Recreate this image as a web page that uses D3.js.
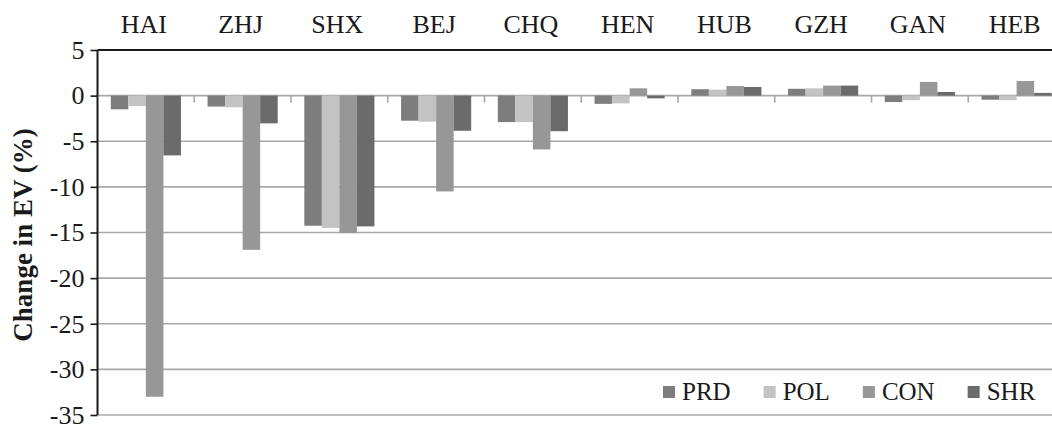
<!DOCTYPE html>
<html>
<head>
<meta charset="utf-8">
<script src="https://cdn.jsdelivr.net/npm/d3@7"></script>
<style>
  html, body { margin: 0; padding: 0; background: #fff; overflow: hidden; }
  svg { display: block; font-family: "Liberation Serif", "Times New Roman", serif; }
</style>
</head>
<body>
<svg id="chart" width="1052" height="424"></svg>
<script>
const categories = ["HAI","ZHJ","SHX","BEJ","CHQ","HEN","HUB","GZH","GAN","HEB"];
const seriesNames = ["PRD","POL","CON","SHR"];
const PRD = [-1.5, -1.2, -14.26, -2.75, -2.9, -0.9, 0.7, 0.75, -0.7, -0.45];
const POL = [-1.14, -1.28, -14.5, -2.86, -2.9, -0.85, 0.65, 0.8, -0.5, -0.5];
const CON = [-33.0, -16.9, -15.06, -10.5, -5.9, 0.8, 1.05, 1.1, 1.5, 1.6];
const SHR = [-6.55, -3.04, -14.33, -3.85, -3.9, -0.3, 0.95, 1.1, 0.4, 0.3];
const yTicks = [5, 0, -5, -10, -15, -20, -25, -30, -35];
const colors = ["#7d7d7d", "#c3c3c3", "#979797", "#6b6b6b"];

const values = [PRD, POL, CON, SHR];
const svg = d3.select("#chart");

const plotLeft = 97.5, plotRight = 1065, plotTop = 50, plotBottom = 415;

const y = d3.scaleLinear().domain([-35, 5]).range([plotBottom, plotTop]);
const x0 = d3.scaleBand().domain(categories).range([plotLeft, plotRight]).padding(0);
const bw = x0.bandwidth();
const pad = bw * 0.1375;
const x1 = d3.scaleBand().domain(seriesNames).range([pad, bw - pad]).padding(0);

// gridlines (grey)
svg.append("g").selectAll("line")
  .data(yTicks.filter(t => t !== 5))
  .join("line")
  .attr("x1", plotLeft).attr("x2", 1052)
  .attr("y1", d => y(d)).attr("y2", d => y(d))
  .attr("stroke", "#a8a8a8").attr("stroke-width", 1.6);

// bars
const groups = svg.append("g").selectAll("g")
  .data(categories)
  .join("g")
  .attr("transform", d => `translate(${x0(d)},0)`);

groups.selectAll("rect")
  .data((d, i) => seriesNames.map((s, j) => ({ s, v: values[j][i], j })))
  .join("rect")
  .attr("x", d => x1(d.s))
  .attr("width", x1.bandwidth())
  .attr("y", d => y(Math.max(0, d.v)))
  .attr("height", d => Math.abs(y(d.v) - y(0)))
  .attr("fill", d => colors[d.j]);

// category separator ticks at zero line
svg.append("g").selectAll("line")
  .data(categories.slice(1))
  .join("line")
  .attr("x1", d => x0(d)).attr("x2", d => x0(d))
  .attr("y1", y(0)).attr("y2", y(0) + 7)
  .attr("stroke", "#a8a8a8").attr("stroke-width", 1.6);

// top line at 5 (dark)
svg.append("line")
  .attr("x1", plotLeft).attr("x2", 1052)
  .attr("y1", y(5)).attr("y2", y(5))
  .attr("stroke", "#1a1a1a").attr("stroke-width", 2);

// left axis
const yAxis = d3.axisLeft(y).tickValues(yTicks).tickSize(7).tickPadding(6).tickFormat(d3.format("d"));
const ga = svg.append("g").attr("transform", `translate(${plotLeft},0)`).call(yAxis);
ga.select(".domain").attr("stroke", "#1a1a1a").attr("stroke-width", 2).attr("d", `M0,${plotTop}V${plotBottom}`);
ga.selectAll(".tick line").attr("stroke", "#1a1a1a").attr("stroke-width", 1.6);
ga.selectAll(".tick text")
  .attr("font-size", 26).attr("fill", "#1a1a1a")
  .attr("font-family", "Liberation Serif, serif")
  .text(d => d < 0 ? "-" + Math.abs(d) : d);

// category labels at top
svg.append("g").selectAll("text")
  .data(categories)
  .join("text")
  .attr("x", d => x0(d) + bw / 2 - 2)
  .attr("y", 33)
  .attr("text-anchor", "middle")
  .attr("font-size", 26)
  .attr("fill", "#1a1a1a")
  .text(d => d);

// y axis title
svg.append("text")
  .attr("transform", `translate(32,235) rotate(-90)`)
  .attr("text-anchor", "middle")
  .attr("font-size", 27)
  .attr("font-weight", "bold")
  .attr("fill", "#1a1a1a")
  .text("Change in EV (%)");

// legend
const legend = svg.append("g");
let lx = 663;
seriesNames.forEach((s, j) => {
  legend.append("rect")
    .attr("x", lx).attr("y", 386)
    .attr("width", 12).attr("height", 12)
    .attr("fill", colors[j]);
  const t = legend.append("text")
    .attr("x", lx + 19).attr("y", 400)
    .attr("font-size", 25)
    .attr("fill", "#1a1a1a")
    .text(s);
  lx += 19 + t.node().getComputedTextLength() + 33;
});
</script>
</body>
</html>
